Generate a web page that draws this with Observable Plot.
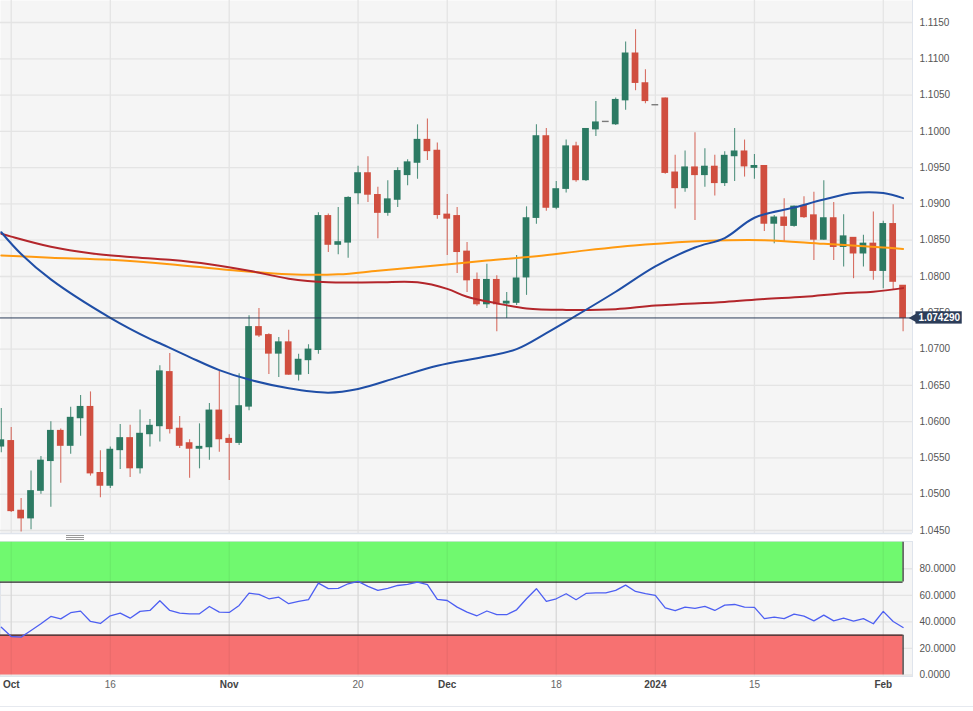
<!DOCTYPE html>
<html>
<head>
<meta charset="utf-8">
<script src="https://cdn.jsdelivr.net/npm/d3@7"></script>
<script src="https://cdn.jsdelivr.net/npm/@observablehq/plot@0.6"></script>
<style>
  body { margin: 0; background: #fff; }
  #wrap { position: relative; width: 973px; height: 711px; overflow: hidden; font-family: 'Liberation Sans', Arial, sans-serif; }
  #main { position: absolute; left: 0; top: 0; }
  #rsi { position: absolute; left: 0; top: 533px; }
  .handle { position: absolute; left: 66px; width: 18px; height: 0; border-top: 1px solid #9a9a9a; }
  #bottomline { position: absolute; left: 0; top: 706px; width: 973px; height: 0; border-top: 1px solid #e6e9ef; }
</style>
</head>
<body>
<div id="wrap">
  <div id="main"></div>
  <div id="rsi"></div>
  <div class="handle" style="top:535px"></div>
  <div class="handle" style="top:537px"></div>
  <div class="handle" style="top:539px"></div>
  <div id="bottomline"></div>
</div>
<script>
// ---- Data (EUR/USD daily) ----
const dates = [
  "2023-09-29",
  "2023-10-02","2023-10-03","2023-10-04","2023-10-05","2023-10-06",
  "2023-10-09","2023-10-10","2023-10-11","2023-10-12","2023-10-13",
  "2023-10-16","2023-10-17","2023-10-18","2023-10-19","2023-10-20",
  "2023-10-23","2023-10-24","2023-10-25","2023-10-26","2023-10-27",
  "2023-10-30","2023-10-31",
  "2023-11-01","2023-11-02","2023-11-03",
  "2023-11-06","2023-11-07","2023-11-08","2023-11-09","2023-11-10",
  "2023-11-13","2023-11-14","2023-11-15","2023-11-16","2023-11-17",
  "2023-11-20","2023-11-21","2023-11-22","2023-11-23","2023-11-24",
  "2023-11-27","2023-11-28","2023-11-29","2023-11-30",
  "2023-12-01",
  "2023-12-04","2023-12-05","2023-12-06","2023-12-07","2023-12-08",
  "2023-12-11","2023-12-12","2023-12-13","2023-12-14","2023-12-15",
  "2023-12-18","2023-12-19","2023-12-20","2023-12-21","2023-12-22",
  "2023-12-25","2023-12-26","2023-12-27","2023-12-28","2023-12-29",
  "2024-01-01","2024-01-02","2024-01-03","2024-01-04","2024-01-05",
  "2024-01-08","2024-01-09","2024-01-10","2024-01-11","2024-01-12",
  "2024-01-15","2024-01-16","2024-01-17","2024-01-18","2024-01-19",
  "2024-01-22","2024-01-23","2024-01-24","2024-01-25","2024-01-26",
  "2024-01-29","2024-01-30","2024-01-31",
  "2024-02-01","2024-02-02","2024-02-05"
];

const open = [
  1.0566,
  1.0573,1.0477,1.0467,1.0505,1.0546, 1.0587,1.0567,1.0605,1.0620,1.0529,
  1.0512,1.0561,1.0577,1.0536,1.0583, 1.0594,1.0668,1.0590,1.0570,1.0563,
  1.0565,1.0615,
  1.0576,1.0571,1.0621, 1.0730,1.0719,1.0694,1.0709,1.0665,
  1.0685,1.0699,1.0883,1.0844,1.0847, 1.0915,1.0942,1.0912,1.0888,1.0906,
  1.0940,1.0957,1.0988,1.0973,
  1.0885, 1.0883,1.0834,1.0795,1.0762,1.0795, 1.0763,1.0764,1.0799,1.0881,1.0993,
  1.0895,1.0921,1.0979,1.0933,1.1003, 1.1013,1.1010,1.1043,1.1107,1.1066,
  1.1036,1.1045,1.0943,1.0922,1.0950, 1.0940,1.0951,1.0929,1.0966,1.0972,
  1.0950,1.0952,1.0873,1.0881,1.0870, 1.0897,1.0884,1.0851,1.0880,1.0841,
  1.0853,1.0832,1.0845,
  1.0808,1.0872,1.0787
];
const high = [
  1.0618,
  1.0592,1.0494,1.0532,1.0552,1.0600, 1.0590,1.0620,1.0636,1.0641,1.0560,
  1.0565,1.0596,1.0595,1.0616,1.0603, 1.0677,1.0694,1.0607,1.0575,1.0597,
  1.0625,1.0669,
  1.0582,1.0666,1.0746, 1.0756,1.0721,1.0716,1.0726,1.0693,
  1.0706,1.0888,1.0886,1.0895,1.0910, 1.0952,1.0965,1.0923,1.0932,1.0950,
  1.0961,1.1009,1.1017,1.0984,
  1.0913, 1.0895,1.0847,1.0805,1.0817,1.0801, 1.0778,1.0829,1.0896,1.1009,1.1004,
  1.0931,1.0988,1.0985,1.1003,1.1041, 1.1013,1.1046,1.1123,1.1140,1.1085,
  1.1036,1.1046,1.0967,1.0973,1.0998, 1.0976,1.0967,1.0972,1.1004,1.0988,
  1.0968,1.0953,1.0884,1.0907,1.0897, 1.0910,1.0916,1.0932,1.0902,1.0885,
  1.0853,1.0857,1.0889,
  1.0876,1.0899,1.0787
];
const low = [
  1.0557,
  1.0475,1.0448,1.0451,1.0500,1.0482, 1.0515,1.0555,1.0580,1.0525,1.0495,
  1.0508,1.0534,1.0523,1.0528,1.0565, 1.0572,1.0583,1.0563,1.0522,1.0535,
  1.0547,1.0558,
  1.0519,1.0567,1.0615, 1.0716,1.0665,1.0661,1.0664,1.0656,
  1.0665,1.0693,1.0833,1.0830,1.0825, 1.0899,1.0902,1.0852,1.0883,1.0895,
  1.0925,1.0934,1.0960,1.0879,
  1.0829, 1.0804,1.0778,1.0759,1.0756,1.0724, 1.0742,1.0760,1.0774,1.0872,1.0890,
  1.0892,1.0915,1.0930,1.0931,1.0993, 1.1013,1.1008,1.1029,1.1056,1.1038,
  1.1036,1.0941,1.0893,1.0916,1.0877, 1.0923,1.0911,1.0924,1.0931,1.0937,
  1.0934,1.0862,1.0845,1.0847,1.0868, 1.0880,1.0822,1.0850,1.0822,1.0813,
  1.0797,1.0813,1.0795,
  1.0783,1.0781,1.0724
];
const close = [
  1.0574,
  1.0477,1.0467,1.0504,1.0546,1.0587, 1.0567,1.0605,1.0620,1.0529,1.0512,
  1.0561,1.0577,1.0536,1.0583,1.0594, 1.0669,1.0590,1.0567,1.0563,1.0565,
  1.0615,1.0576,
  1.0571,1.0621,1.0730, 1.0719,1.0694,1.0709,1.0665,1.0685,
  1.0699,1.0883,1.0844,1.0847,1.0908, 1.0942,1.0913,1.0888,1.0906,1.0945,
  1.0957,1.0988,1.0973,1.0885,
  1.0880, 1.0834,1.0795,1.0762,1.0795,1.0762, 1.0765,1.0797,1.0880,1.0993,1.0895,
  1.0920,1.0979,1.0933,1.1003,1.1012, 1.1013,1.1043,1.1107,1.1067,1.1042,
  1.1036,1.0943,1.0922,1.0950,1.0940, 1.0951,1.0929,1.0966,1.0972,1.0952,
  1.0952,1.0873,1.0881,1.0870,1.0896, 1.0882,1.0851,1.0880,1.0841,1.0855,
  1.0832,1.0845,1.0808,
  1.0872,1.0793,1.0743
];

const rsi = [
  36.0,
  29.0,28.5,33.5,38.6,44.1, 42.3,46.9,48.1,40.3,38.8,
  44.6,46.6,42.8,47.9,48.6, 55.9,48.6,46.6,46.1,46.1,
  51.6,47.3,
  47.1,52.4,61.6, 60.7,57.4,58.6,53.7,55.4,
  56.7,69.2,65.0,65.2,68.7, 70.5,66.7,63.7,65.2,67.4,
  68.2,69.9,68.0,56.9,
  56.1, 51.1,47.3,44.6,48.2,45.4, 45.4,49.1,57.4,65.0,55.4,
  57.4,61.2,56.7,61.4,61.9, 61.9,63.7,67.7,62.9,61.2,
  59.9,50.6,48.4,51.1,50.1, 51.6,48.6,52.6,53.1,51.1,
  50.9,42.4,43.6,42.4,45.8, 44.3,40.8,45.1,40.8,42.8,
  40.5,42.4,38.6,
  47.9,40.3,35.8
];

// Moving averages read at selected dates
const smaBlueDates = ["2023-09-29","2023-10-03","2023-10-06","2023-10-16","2023-10-20","2023-10-23","2023-10-26","2023-10-31","2023-11-03","2023-11-09","2023-11-15","2023-11-20","2023-11-24","2023-11-30","2023-12-07","2023-12-12","2023-12-15","2023-12-20","2023-12-26","2024-01-01","2024-01-05","2024-01-10","2024-01-15","2024-01-19","2024-01-24","2024-01-29","2024-02-01","2024-02-05"];
const smaBlue = [1.0861,1.0831,1.0796,1.0743,1.0714,1.0708,1.0689,1.0671,1.0658,1.0646,1.0640,1.0645,1.0661,1.0677,1.0690,1.0700,1.0722,1.0746,1.0779,1.0814,1.0840,1.0853,1.0881,1.0895,1.0906,1.0915,1.0915,1.0908];

const smaRedDates = ["2023-09-29","2023-10-02","2023-10-06","2023-10-12","2023-10-18","2023-10-24","2023-10-30","2023-11-03","2023-11-09","2023-11-15","2023-11-22","2023-11-28","2023-12-01","2023-12-05","2023-12-08","2023-12-13","2023-12-19","2023-12-26","2024-01-01","2024-01-10","2024-01-16","2024-01-22","2024-01-26","2024-01-31","2024-02-05"];
const smaRed = [1.0859,1.0855,1.0841,1.0832,1.0827,1.0823,1.0817,1.0808,1.0797,1.0792,1.0792,1.0792,1.0783,1.0772,1.0763,1.0756,1.0754,1.0755,1.0760,1.0765,1.0769,1.0772,1.0777,1.0779,1.0784];

const smaOrangeDates = ["2023-09-29","2023-10-06","2023-10-16","2023-10-24","2023-11-01","2023-11-09","2023-11-16","2023-11-22","2023-11-29","2023-12-07","2023-12-14","2023-12-21","2023-12-29","2024-01-08","2024-01-16","2024-01-24","2024-02-01","2024-02-05"];
const smaOrange = [1.0829,1.0826,1.0823,1.0817,1.0809,1.0803,1.0803,1.0808,1.0814,1.0822,1.0828,1.0836,1.0844,1.0849,1.0850,1.0845,1.0840,1.0838];

const lastPrice = 1.074290;

const tickDates = ["2023-10-02","2023-10-16","2023-11-01","2023-11-20","2023-12-01","2023-12-18","2024-01-01","2024-01-15","2024-02-01"];
const tickLabels = ["Oct","16","Nov","20","Dec","18","2024","15","Feb"];
const tickBold = [true,false,true,false,true,false,true,false,true];

const priceTicks = [1.045,1.050,1.055,1.060,1.065,1.070,1.075,1.080,1.085,1.090,1.095,1.100,1.105,1.110,1.115];
const rsiTicks = [0,20,40,60,80];
const rsiBands = [{lo: 70, hi: 100, f: "#70f96f"}, {lo: 0, hi: 30, f: "#f77171"}];

// ---- Build ----
const idx = d => dates.indexOf(d);
const candles = dates.map((d, i) => ({i, o: open[i], h: high[i], l: low[i], c: close[i]}));
const colorOf = d => d.c > d.o ? "#2c7a63" : d.c < d.o ? "#d04e3f" : "#7a7a7a";
const xDomain = [-0.081, 91.95];
const ticksIdx = tickDates.map(idx);
const lastIdx = dates.length - 1;

const font = "'Liberation Sans', Arial, sans-serif";
const gridColor = "#e4e4e4";
const navy = "#2c3d59";

const main = Plot.plot({
  width: 973, height: 541,
  marginTop: 0, marginBottom: 8, marginLeft: 0, marginRight: 61,
  style: {fontFamily: font, fontSize: "10px", color: "#555", background: "transparent", overflow: "visible"},
  x: {domain: xDomain, axis: null},
  y: {domain: [1.04459, 1.11803], axis: null},
  marks: [
    Plot.frame({fill: "#f5f5f5", stroke: null}),
    Plot.ruleY(priceTicks, {stroke: gridColor, strokeWidth: 1.3}),
    Plot.ruleX(ticksIdx, {stroke: gridColor, strokeWidth: 1.3}),
    Plot.ruleX(candles, {x: "i", y1: "l", y2: "h", stroke: colorOf, strokeWidth: 1.1, strokeOpacity: 0.8}),
    Plot.rect(candles, {x1: d => d.i - 0.34, x2: d => d.i + 0.34, y1: "o", y2: "c", fill: colorOf, insetTop: -0.7, insetBottom: -0.7}),
    Plot.line(smaOrangeDates.map((d, k) => ({i: idx(d), v: smaOrange[k]})), {x: "i", y: "v", stroke: "#ff9a10", strokeWidth: 2, curve: "catmull-rom"}),
    Plot.line(smaRedDates.map((d, k) => ({i: idx(d), v: smaRed[k]})), {x: "i", y: "v", stroke: "#b3262b", strokeWidth: 2, curve: "catmull-rom"}),
    Plot.line(smaBlueDates.map((d, k) => ({i: idx(d), v: smaBlue[k]})), {x: "i", y: "v", stroke: "#1f4ea6", strokeWidth: 2, curve: "catmull-rom"}),
    Plot.ruleY([lastPrice], {stroke: navy, strokeWidth: 1}),
    Plot.ruleX([xDomain[1]], {stroke: "#dfe4ec", strokeWidth: 1}),
    Plot.ruleY([1.04459], {stroke: "#dfe4ec", strokeWidth: 1.5}),
    Plot.axisY(priceTicks, {anchor: "right", tickSize: 0, tickPadding: 7, tickFormat: d => d.toFixed(4), label: null, fontSize: 10, fill: "#555"}),
    Plot.rect([lastPrice], {x1: 92.3, x2: 96.97, y1: d => d - 0.00085, y2: d => d + 0.00085, fill: navy}),
    Plot.dot([lastPrice], {x: 92.2, y: d => d, symbol: "triangle", r: 4, rotate: -90, fill: navy, stroke: null}),
    Plot.text([lastPrice], {x: 94.65, y: d => d, text: d => d.toFixed(6), fill: "white", fontWeight: "bold", fontSize: 10})
  ]
});
document.getElementById("main").appendChild(main);

const boldIdx = ticksIdx.filter((d, k) => tickBold[k]);
const normIdx = ticksIdx.filter((d, k) => !tickBold[k]);
const labelOf = d => tickLabels[ticksIdx.indexOf(d)];

const rsiPlot = Plot.plot({
  width: 973, height: 178,
  marginTop: 8, marginBottom: 35, marginLeft: 0, marginRight: 61,
  style: {fontFamily: font, fontSize: "10px", color: "#555", background: "transparent", overflow: "visible"},
  x: {domain: xDomain, axis: null},
  y: {domain: [-1.13, 100.53], axis: null},
  marks: [
    Plot.frame({fill: "#f5f5f5", stroke: "#dfe4ec"}),
    Plot.ruleY(rsiTicks, {stroke: gridColor, strokeWidth: 1.3}),
    Plot.ruleX(ticksIdx, {stroke: gridColor, strokeWidth: 1.3}),
    Plot.rect(rsiBands, {x1: xDomain[0], x2: lastIdx, y1: "lo", y2: "hi", fill: "f"}),
    Plot.ruleX(ticksIdx, {y1: 0, y2: 100, stroke: "#000", strokeOpacity: 0.05, strokeWidth: 1.3}),
    Plot.ruleY([70, 30], {x1: xDomain[0], x2: lastIdx, stroke: "#2a2a2a", strokeWidth: 1.2}),
    Plot.ruleX(rsiBands, {x: lastIdx, y1: "lo", y2: "hi", stroke: "#2a2a2a", strokeWidth: 1.2}),
    Plot.line(rsi, {x: (d, i) => i, y: d => d, stroke: "#4d5ff2", strokeWidth: 1.3}),
    Plot.axisY(rsiTicks, {anchor: "right", tickSize: 0, tickPadding: 7, tickFormat: d => d.toFixed(4), label: null, fontSize: 10, fill: "#555"}),
    Plot.text(boldIdx, {x: d => d, frameAnchor: "bottom", dy: 11, text: labelOf, fontWeight: "bold", fontSize: 10, fill: "#444"}),
    Plot.text(normIdx, {x: d => d, frameAnchor: "bottom", dy: 11, text: labelOf, fontSize: 10, fill: "#666"})
  ]
});
document.getElementById("rsi").appendChild(rsiPlot);
</script>
</body>
</html>
